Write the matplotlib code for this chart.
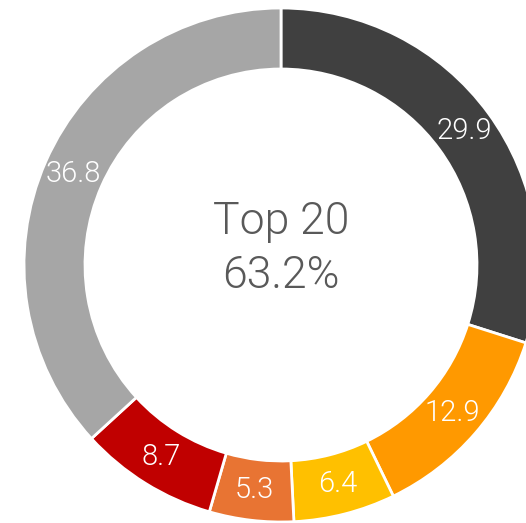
import matplotlib
matplotlib.use("Agg")
import matplotlib.pyplot as plt

# shares, clockwise from 12 o'clock
values = [29.9, 12.9, 6.4, 5.3, 8.7, 36.8]
colors = ["#404040", "#FF9900", "#FFC000", "#E87433", "#C00000", "#A6A6A6"]
center_lines = ["Top 20", "63.2%"]

fnt = ["Roboto", "DejaVu Sans"]

fig = plt.figure(figsize=(5.26, 5.23), dpi=100)
ax = fig.add_axes([0, 0, 1, 1])

cx, cy, r = 281, 523 - 265, 257
width = 61

wedges, texts, autotexts = ax.pie(
    values, colors=colors, startangle=90, counterclock=False,
    center=(cx, cy), radius=r, autopct="%.1f", pctdistance=1 - width / 2 / r,
    wedgeprops=dict(width=width, edgecolor="white", linewidth=2),
    textprops=dict(color="white", fontsize=21, family=fnt, fontweight=300),
)

ax.text(cx, 523 - 234, center_lines[0], ha="center", va="baseline", fontsize=32,
        color="#595959", family=fnt, fontweight=300)
ax.text(cx, 523 - 288, center_lines[1], ha="center", va="baseline", fontsize=32,
        color="#595959", family=fnt, fontweight=300)

ax.set_xlim(0, 526)
ax.set_ylim(0, 523)
ax.set_aspect("auto")
ax.axis("off")

fig.savefig("out.png", dpi=100)
